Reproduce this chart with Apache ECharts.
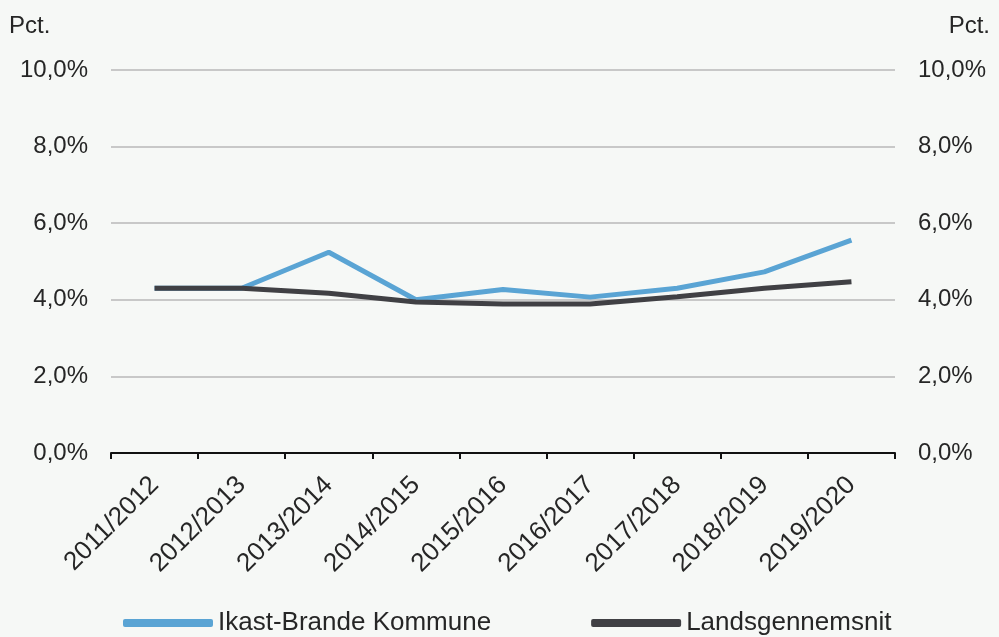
<!DOCTYPE html>
<html><head><meta charset="utf-8">
<script src="https://cdn.jsdelivr.net/npm/echarts@6/dist/echarts.min.js"></script>
<style>html,body{margin:0;padding:0;background:#f6f8f6}#c{width:999px;height:637px}</style>
</head><body><div id="c"></div>
<script>
const categories = ['2011/2012','2012/2013','2013/2014','2014/2015','2015/2016','2016/2017','2017/2018','2018/2019','2019/2020'];
const ikastBrande = [4.3, 4.3, 5.24, 4.0, 4.27, 4.07, 4.3, 4.73, 5.56];
const landsgennemsnit = [4.3, 4.3, 4.17, 3.94, 3.89, 3.89, 4.08, 4.3, 4.47];
const yTicks = [0, 2, 4, 6, 8, 10];
const seriesNames = ['Ikast-Brande Kommune', 'Landsgennemsnit'];

const fmt = v => v.toFixed(1).replace('.', ',') + '%';
const font = 'Liberation Sans, Arial, sans-serif';
const txt = '#262626';
const chart = echarts.init(document.getElementById('c'));
const yAxisBase = {
  type: 'value', min: yTicks[0], max: yTicks[yTicks.length-1], interval: 2,
  axisLine: {show: false}, axisTick: {show: false},
  axisLabel: {formatter: fmt, fontSize: 24, color: txt, fontFamily: font, margin: 23}
};
chart.setOption({
  backgroundColor: '#f6f8f6',
  animation: false,
  grid: {left: 111, right: 104, top: 70, bottom: 184, containLabel: false},
  graphic: [
    {type: 'text', left: 9, top: 14, style: {text: 'Pct.', fontSize: 24, fill: txt, fontFamily: font}},
    {type: 'text', right: 9, top: 14, style: {text: 'Pct.', fontSize: 24, fill: txt, fontFamily: font}}
  ],
  legend: {
    top: 605, left: 118, itemGap: 100, itemWidth: 90, itemHeight: 8, icon: 'roundRect',
    textStyle: {fontSize: 26, color: txt, fontFamily: font},
    data: seriesNames
  },
  xAxis: {
    type: 'category', data: categories, boundaryGap: true,
    axisLine: {lineStyle: {color: '#111', width: 2}},
    axisTick: {show: true, alignWithLabel: false, length: 6, lineStyle: {color: '#111', width: 2}},
    axisLabel: {rotate: 45, fontSize: 26, color: txt, fontFamily: font, margin: 28, interval: 0}
  },
  yAxis: [
    Object.assign({}, yAxisBase, {position: 'left', splitLine: {lineStyle: {color: '#b8b8b8', width: 1.5}}}),
    Object.assign({}, yAxisBase, {position: 'right', splitLine: {show: false},
      axisLabel: Object.assign({}, yAxisBase.axisLabel, {margin: 23})})
  ],
  series: [
    {name: seriesNames[0], type: 'line', data: ikastBrande, symbol: 'none', z: 2,
     lineStyle: {color: '#5aa4d4', width: 5}, itemStyle: {color: '#5aa4d4'}},
    {name: seriesNames[1], type: 'line', data: landsgennemsnit, symbol: 'none', z: 3,
     lineStyle: {color: '#404044', width: 5}, itemStyle: {color: '#404044'}}
  ]
});
</script></body></html>
